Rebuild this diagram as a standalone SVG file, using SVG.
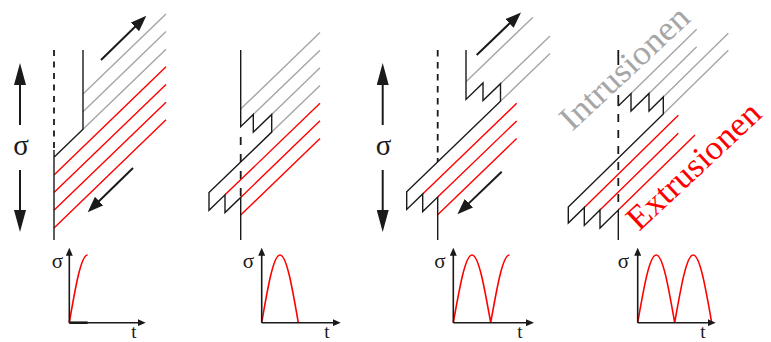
<svg xmlns="http://www.w3.org/2000/svg" width="771" height="342" viewBox="0 0 771 342">
<defs>
<style>
.k{fill:none;stroke:#1a1a1a;stroke-width:1.4;stroke-linejoin:miter}
.g{fill:none;stroke:#a6a6a6;stroke-width:1.4}
.r{fill:none;stroke:#ff0000;stroke-width:1.4}
.d{fill:none;stroke:#1a1a1a;stroke-width:1.8}
.ar{fill:none;stroke:#1a1a1a;stroke-width:2}
.ax{fill:none;stroke:#1a1a1a;stroke-width:1.6}
.cv{fill:none;stroke:#ff0000;stroke-width:1.6}
.sig{font-family:"Liberation Serif","DejaVu Serif",serif;fill:#1a1a1a;text-anchor:middle}
.lbl{font-family:"Liberation Serif","DejaVu Serif",serif;font-size:34px}
</style>
<marker id="hv" viewBox="0 0 22 12" refX="1" refY="6" markerWidth="22" markerHeight="12" markerUnits="userSpaceOnUse" orient="auto"><path d="M0,0 L22,6 L0,12 z" fill="#1a1a1a"/></marker>
<marker id="hd" viewBox="0 0 16 12" refX="1" refY="6" markerWidth="16" markerHeight="12" markerUnits="userSpaceOnUse" orient="auto"><path d="M0,0 L16,6 L0,12 z" fill="#1a1a1a"/></marker>
<marker id="ha" viewBox="0 0 8 7" refX="1" refY="3.5" markerWidth="8" markerHeight="7" markerUnits="userSpaceOnUse" orient="auto"><path d="M0,0 L8,3.5 L0,7 z" fill="#1a1a1a"/></marker>
</defs>

<g id="panel1">
<line class="d" x1="54" y1="50" x2="54" y2="150" stroke-dasharray="6,5.5"/>
<path class="g" d="M83,94 L166,13.9 M83,111.65 L166,31.55 M83,129.3 L166,49.2"/>
<path class="r" d="M54,174.95 L166,66.85 M54,192.6 L166,84.5 M54,210.25 L166,102.15 M54,227.9 L166,119.8"/>
<path class="k" d="M83,50 V129.3 L54,157.3 M54,150 V240"/>
<line class="ar" x1="101" y1="60" x2="135.6" y2="26.2" marker-end="url(#hd)"/>
<line class="ar" x1="133" y1="168" x2="98.4" y2="201.8" marker-end="url(#hd)"/>
<line class="ar" x1="20" y1="125" x2="20" y2="84" marker-end="url(#hv)"/>
<line class="ar" x1="20" y1="170" x2="20" y2="211" marker-end="url(#hv)"/>
<text class="sig" x="21" y="155" font-size="29">σ</text>
</g>

<g id="panel2">
<line class="d" x1="240.7" y1="137" x2="240.7" y2="197" stroke-dasharray="8,9"/>
<path class="g" d="M240.7,109 L320,32.5 M253.3,114.5 L320,50.2 M271.7,114.45 L320,67.8 M271.7,132.1 L320,85.5"/>
<path class="r" d="M225,194.85 L320,103.2 M240.7,197.4 L320,120.85 M240.7,215 L320,138.5"/>
<path class="k" d="M240.7,50 V126.7 L253.3,114.5 V132.2 L271.7,114.45 V132.1 L209,192.6 V210.3 L225,194.85 V212.5 L240.7,197.4 V240"/>
</g>

<g id="panel3">
<line class="d" x1="437.7" y1="50" x2="437.7" y2="162" stroke-dasharray="6.5,5.5"/>
<path class="g" d="M466,81.8 L532.7,17.4 M500.5,83.7 L550,35.95 M500.5,101.3 L550,53.55"/>
<path class="r" d="M422.7,194 L516.7,103.3 M437.7,197.1 L516.7,120.9 M437.7,214.7 L516.7,138.5"/>
<path class="k" d="M466,50 V99.4 L483,83 V100.6 L500.5,83.7 V101.3 L406.7,191.8 V209.4 L422.7,194 V211.6 L437.7,197.1 V240"/>
<line class="ar" x1="476.7" y1="55" x2="510.2" y2="22.8" marker-end="url(#hd)"/>
<line class="ar" x1="501.7" y1="171.7" x2="468.2" y2="203.9" marker-end="url(#hd)"/>
<line class="ar" x1="382.7" y1="125" x2="382.7" y2="84" marker-end="url(#hv)"/>
<line class="ar" x1="382.7" y1="170" x2="382.7" y2="211" marker-end="url(#hv)"/>
<text class="sig" x="383.5" y="155" font-size="29">σ</text>
</g>

<g id="panel4">
<path class="d" d="M618.3,50 V65 M618.3,95 V106"/>
<line class="d" x1="618.3" y1="114" x2="618.3" y2="206" stroke-dasharray="8,8"/>
<path class="g" d="M631,93.62 L696.7,29.23 M649,93.48 L696.7,46.73 M663.3,96.97 L728.3,33.27 M663.3,113.97 L728.3,50.27"/>
<path class="r" d="M584.3,207.39 L678.3,115.27 M600,210 L678.3,133.27 M618.3,210.07 L695,134.9"/>
<path class="k" d="M618.3,106.07 L631,93.62 V111.12 L649,93.48 V110.98 L663.3,96.97 V113.97 L568.3,207.07 V223.07 L584.3,207.39 V225.39 L600,210 V228 L618.3,210.07 V240"/>
<text class="lbl" x="572" y="132" transform="rotate(-43 572 132)" fill="#a6a6a6" textLength="164" lengthAdjust="spacingAndGlyphs">Intrusionen</text>
<text class="lbl" x="639" y="232" transform="rotate(-43 639 232)" fill="#ff0000" textLength="170" lengthAdjust="spacingAndGlyphs">Extrusionen</text>
</g>

<g id="graph1">
<path class="cv" d="M69.3,322.7 C75.4,287.2 81,255 87.6,255"/>
<line class="ax" x1="69.3" y1="322.7" x2="69.3" y2="254.7" marker-end="url(#ha)"/>
<line class="ax" x1="69.3" y1="322.7" x2="138.7" y2="322.7" marker-end="url(#ha)"/>
<line x1="69.3" y1="322.7" x2="87.6" y2="322.7" stroke="#1a1a1a" stroke-width="2.6"/>
<text class="sig" x="57.5" y="268" font-size="21">σ</text>
<text class="sig" x="134" y="337.5" font-size="19">t</text>
</g>

<g id="graph2">
<path class="cv" d="M261.7,322.7 C267.8,287.2 273.4,255 280,255 C286.6,255 292.2,287.2 298.3,322.7"/>
<line class="ax" x1="261.7" y1="322.7" x2="261.7" y2="254.7" marker-end="url(#ha)"/>
<line class="ax" x1="261.7" y1="322.7" x2="333.7" y2="322.7" marker-end="url(#ha)"/>
<text class="sig" x="248.5" y="268" font-size="21">σ</text>
<text class="sig" x="327" y="337.5" font-size="19">t</text>
</g>

<g id="graph3">
<path class="cv" d="M453.3,322.7 C459.6,287.2 465.3,255 472,255 C478.7,255 484.4,287.2 490.7,322.7 C497,287.2 502.7,255 509.4,255"/>
<line class="ax" x1="453.3" y1="322.7" x2="453.3" y2="254.7" marker-end="url(#ha)"/>
<line class="ax" x1="453.3" y1="322.7" x2="527" y2="322.7" marker-end="url(#ha)"/>
<text class="sig" x="440" y="268" font-size="21">σ</text>
<text class="sig" x="520" y="337.5" font-size="19">t</text>
</g>

<g id="graph4">
<path class="cv" d="M637.7,322.7 C643.9,287.2 649.5,255 656.2,255 C662.9,255 668.5,287.2 674.7,322.7 C680.9,287.2 686.5,255 693.2,255 C699.9,255 705.5,287.2 711.7,322.7"/>
<line class="ax" x1="637.7" y1="322.7" x2="637.7" y2="254.7" marker-end="url(#ha)"/>
<line class="ax" x1="637.7" y1="322.7" x2="708.7" y2="322.7" marker-end="url(#ha)"/>
<text class="sig" x="623.5" y="268" font-size="21">σ</text>
<text class="sig" x="703" y="337.5" font-size="19">t</text>
</g>
</svg>
